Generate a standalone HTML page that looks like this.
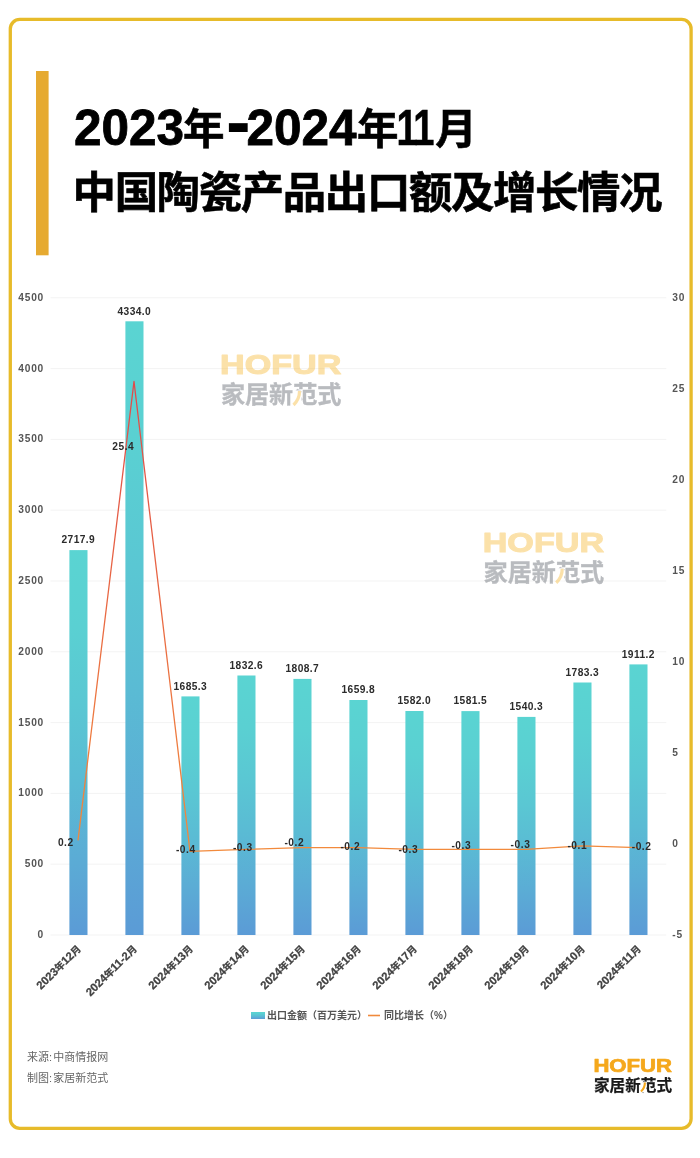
<!DOCTYPE html>
<html lang="zh-CN"><head><meta charset="utf-8"><title>2023年-2024年11月中国陶瓷产品出口额及增长情况</title>
<style>
html,body{margin:0;padding:0;background:#fff;}
body{width:700px;height:1158px;position:relative;overflow:hidden;font-family:"Liberation Sans","Noto Sans CJK SC",sans-serif;}
svg{position:absolute;left:0;top:0;display:block;}
text{font-family:"Liberation Sans","Noto Sans CJK SC",sans-serif;}
.ax{font-size:10.2px;font-weight:700;fill:#555;letter-spacing:0.75px;}
.bv{font-size:10.2px;font-weight:700;fill:#2b2b2b;letter-spacing:0.4px;}
.lv{font-size:10.2px;font-weight:700;fill:#2b2b2b;letter-spacing:0.55px;}
.xc{font-size:11.3px;font-weight:700;fill:#424242;stroke:#424242;stroke-width:0.25px;}
.xc .k{font-size:9.8px;}
.lg{font-size:10px;font-weight:700;fill:#555;}
.ft{font-size:11px;font-weight:400;fill:#666;}
.t1{font-size:42px;font-weight:900;fill:#000;}
.t1.n{font-size:49.5px;font-weight:700;stroke:#000;stroke-width:0.8px;}
.t1.c{font-size:41.5px;font-weight:700;stroke:#000;stroke-width:0.6px;}
.t1.n1{font-size:49.5px;font-weight:700;letter-spacing:-3px;stroke:#000;stroke-width:0.5px;}
.t1.h{font-size:74px;font-weight:700;}
.t2{font-size:43.4px;font-weight:700;fill:#000;stroke:#000;stroke-width:0.6px;stroke-linejoin:miter;letter-spacing:-1.35px;}
.logoE{font-weight:700;fill:#F5A81C;}
.logoC{font-weight:700;fill:#1a1a1a;}
</style></head><body>
<svg width="700" height="1158" viewBox="0 0 700 1158">
<defs>
<linearGradient id="bg" x1="0" y1="0" x2="0" y2="1"><stop offset="0" stop-color="#5AD4D2"/><stop offset="0.2" stop-color="#5AD0D2"/><stop offset="0.4" stop-color="#5AC7D3"/><stop offset="0.6" stop-color="#5ABBD4"/><stop offset="0.8" stop-color="#5BACD5"/><stop offset="1" stop-color="#5B9BD6"/></linearGradient>
<linearGradient id="lgd" gradientUnits="userSpaceOnUse" x1="0" y1="380" x2="0" y2="850"><stop offset="0" stop-color="#E04A4A"/><stop offset="1" stop-color="#F28A3C"/></linearGradient>
</defs>
<rect x="0" y="0" width="700" height="1158" fill="#fff"/>
<rect x="10.3" y="19.45" width="680.8" height="1108.85" rx="9.5" ry="9.5" fill="none" stroke="#E7BB2A" stroke-width="3.3"/>
<rect x="36" y="71" width="12.6" height="184.3" fill="#E6AA31"/>
<text class="t1 n" x="74" y="145">2023</text>
<text class="t1 c" x="183" y="144.4">年</text>
<text class="t1 h" x="226" y="147.4">-</text>
<text class="t1 n" x="246.5" y="145">2024</text>
<text class="t1 c" x="357" y="144.4">年</text>
<text class="t1 n1" transform="translate(396.4,145) scale(0.77,1)">11</text>
<text class="t1 c" x="435.3" y="144.4">月</text>
<text class="t2" x="72.6" y="207.6">中国陶瓷产品出口额及增长情况</text>
<line x1="50.5" y1="935.0" x2="666.3" y2="935.0" stroke="#f3f3f3" stroke-width="1"/>
<text class="ax" x="44" y="937.9" text-anchor="end">0</text>
<line x1="50.5" y1="864.2" x2="666.3" y2="864.2" stroke="#f3f3f3" stroke-width="1"/>
<text class="ax" x="44" y="867.1" text-anchor="end">500</text>
<line x1="50.5" y1="793.4" x2="666.3" y2="793.4" stroke="#f3f3f3" stroke-width="1"/>
<text class="ax" x="44" y="796.3" text-anchor="end">1000</text>
<line x1="50.5" y1="722.6" x2="666.3" y2="722.6" stroke="#f3f3f3" stroke-width="1"/>
<text class="ax" x="44" y="725.5" text-anchor="end">1500</text>
<line x1="50.5" y1="651.8" x2="666.3" y2="651.8" stroke="#f3f3f3" stroke-width="1"/>
<text class="ax" x="44" y="654.7" text-anchor="end">2000</text>
<line x1="50.5" y1="581.0" x2="666.3" y2="581.0" stroke="#f3f3f3" stroke-width="1"/>
<text class="ax" x="44" y="583.9" text-anchor="end">2500</text>
<line x1="50.5" y1="510.2" x2="666.3" y2="510.2" stroke="#f3f3f3" stroke-width="1"/>
<text class="ax" x="44" y="513.1" text-anchor="end">3000</text>
<line x1="50.5" y1="439.4" x2="666.3" y2="439.4" stroke="#f3f3f3" stroke-width="1"/>
<text class="ax" x="44" y="442.3" text-anchor="end">3500</text>
<line x1="50.5" y1="368.6" x2="666.3" y2="368.6" stroke="#f3f3f3" stroke-width="1"/>
<text class="ax" x="44" y="371.5" text-anchor="end">4000</text>
<line x1="50.5" y1="297.8" x2="666.3" y2="297.8" stroke="#f3f3f3" stroke-width="1"/>
<text class="ax" x="44" y="300.7" text-anchor="end">4500</text>
<text class="ax" x="672.3" y="937.9">-5</text>
<text class="ax" x="672.3" y="846.9">0</text>
<text class="ax" x="672.3" y="755.8">5</text>
<text class="ax" x="672.3" y="664.8">10</text>
<text class="ax" x="672.3" y="573.8">15</text>
<text class="ax" x="672.3" y="482.8">20</text>
<text class="ax" x="672.3" y="391.7">25</text>
<text class="ax" x="672.3" y="300.7">30</text>
<g transform="translate(220.9,353.2) scale(1.545)" opacity="0.42">
<text transform="translate(-0.6,13.6) scale(1.256,1)" font-size="17.6" font-weight="700" fill="#F7B935" stroke="#F7B935" stroke-width="0.7" stroke-linejoin="round">HOFUR</text>
<text x="0" y="32.5" font-size="15.6" font-weight="700" fill="#5a5f68" stroke="#5a5f68" stroke-width="0.25" textLength="78" lengthAdjust="spacingAndGlyphs">家居新范式</text>
<rect x="46.6" y="24.1" width="5.6" height="10.4" fill="#fff"/>
<path d="M50.9 24.5 C50.9 27.9 49.6 31.1 47 33.5" fill="none" stroke="#F7B935" stroke-width="2.1" stroke-linecap="butt"/>
</g>
<g transform="translate(483.6,531) scale(1.545)" opacity="0.42">
<text transform="translate(-0.6,13.6) scale(1.256,1)" font-size="17.6" font-weight="700" fill="#F7B935" stroke="#F7B935" stroke-width="0.7" stroke-linejoin="round">HOFUR</text>
<text x="0" y="32.5" font-size="15.6" font-weight="700" fill="#5a5f68" stroke="#5a5f68" stroke-width="0.25" textLength="78" lengthAdjust="spacingAndGlyphs">家居新范式</text>
<rect x="46.6" y="24.1" width="5.6" height="10.4" fill="#fff"/>
<path d="M50.9 24.5 C50.9 27.9 49.6 31.1 47 33.5" fill="none" stroke="#F7B935" stroke-width="2.1" stroke-linecap="butt"/>
</g>
<rect x="69.4" y="550.1" width="18.1" height="384.9" fill="url(#bg)"/>
<text class="bv" x="78.3" y="543.4" text-anchor="middle">2717.9</text>
<rect x="125.4" y="321.3" width="18.1" height="613.7" fill="url(#bg)"/>
<text class="bv" x="134.3" y="314.6" text-anchor="middle">4334.0</text>
<rect x="181.4" y="696.4" width="18.1" height="238.6" fill="url(#bg)"/>
<text class="bv" x="190.3" y="689.7" text-anchor="middle">1685.3</text>
<rect x="237.4" y="675.5" width="18.1" height="259.5" fill="url(#bg)"/>
<text class="bv" x="246.3" y="668.8" text-anchor="middle">1832.6</text>
<rect x="293.4" y="678.9" width="18.1" height="256.1" fill="url(#bg)"/>
<text class="bv" x="302.3" y="672.2" text-anchor="middle">1808.7</text>
<rect x="349.4" y="700.0" width="18.1" height="235.0" fill="url(#bg)"/>
<text class="bv" x="358.3" y="693.3" text-anchor="middle">1659.8</text>
<rect x="405.4" y="711.0" width="18.1" height="224.0" fill="url(#bg)"/>
<text class="bv" x="414.3" y="704.3" text-anchor="middle">1582.0</text>
<rect x="461.4" y="711.1" width="18.1" height="223.9" fill="url(#bg)"/>
<text class="bv" x="470.3" y="704.4" text-anchor="middle">1581.5</text>
<rect x="517.4" y="716.9" width="18.1" height="218.1" fill="url(#bg)"/>
<text class="bv" x="526.3" y="710.2" text-anchor="middle">1540.3</text>
<rect x="573.4" y="682.5" width="18.1" height="252.5" fill="url(#bg)"/>
<text class="bv" x="582.3" y="675.8" text-anchor="middle">1783.3</text>
<rect x="629.4" y="664.4" width="18.1" height="270.6" fill="url(#bg)"/>
<text class="bv" x="638.3" y="657.7" text-anchor="middle">1911.2</text>
<polyline points="78.0,840.3 134.0,381.5 190.0,851.3 246.0,849.4 302.0,847.6 358.0,847.6 414.0,849.4 470.0,849.4 526.0,849.4 582.0,845.8 638.0,847.6" fill="none" stroke="url(#lgd)" stroke-width="1.3" stroke-linejoin="round"/>
<text class="lv" x="65.8" y="846.0" text-anchor="middle">0.2</text>
<text class="lv" x="123.3" y="450.2" text-anchor="middle">25.4</text>
<text class="lv" x="185.8" y="853.0" text-anchor="middle">-0.4</text>
<text class="lv" x="242.8" y="850.6" text-anchor="middle">-0.3</text>
<text class="lv" x="294.3" y="846.3" text-anchor="middle">-0.2</text>
<text class="lv" x="350.3" y="849.7" text-anchor="middle">-0.2</text>
<text class="lv" x="408.3" y="852.6" text-anchor="middle">-0.3</text>
<text class="lv" x="461.3" y="849.1" text-anchor="middle">-0.3</text>
<text class="lv" x="520.5" y="848.1" text-anchor="middle">-0.3</text>
<text class="lv" x="577.3" y="849.0" text-anchor="middle">-0.1</text>
<text class="lv" x="641.6" y="850.3" text-anchor="middle">-0.2</text>
<text class="xc" transform="translate(81.6,949.5) rotate(-45)" text-anchor="end">2023<tspan class="k">年</tspan>12<tspan class="k">月</tspan></text>
<text class="xc" transform="translate(137.6,949.5) rotate(-45)" text-anchor="end">2024<tspan class="k">年</tspan>11-2<tspan class="k">月</tspan></text>
<text class="xc" transform="translate(193.6,949.5) rotate(-45)" text-anchor="end">2024<tspan class="k">年</tspan>13<tspan class="k">月</tspan></text>
<text class="xc" transform="translate(249.6,949.5) rotate(-45)" text-anchor="end">2024<tspan class="k">年</tspan>14<tspan class="k">月</tspan></text>
<text class="xc" transform="translate(305.6,949.5) rotate(-45)" text-anchor="end">2024<tspan class="k">年</tspan>15<tspan class="k">月</tspan></text>
<text class="xc" transform="translate(361.6,949.5) rotate(-45)" text-anchor="end">2024<tspan class="k">年</tspan>16<tspan class="k">月</tspan></text>
<text class="xc" transform="translate(417.6,949.5) rotate(-45)" text-anchor="end">2024<tspan class="k">年</tspan>17<tspan class="k">月</tspan></text>
<text class="xc" transform="translate(473.6,949.5) rotate(-45)" text-anchor="end">2024<tspan class="k">年</tspan>18<tspan class="k">月</tspan></text>
<text class="xc" transform="translate(529.6,949.5) rotate(-45)" text-anchor="end">2024<tspan class="k">年</tspan>19<tspan class="k">月</tspan></text>
<text class="xc" transform="translate(585.6,949.5) rotate(-45)" text-anchor="end">2024<tspan class="k">年</tspan>10<tspan class="k">月</tspan></text>
<text class="xc" transform="translate(641.6,949.5) rotate(-45)" text-anchor="end">2024<tspan class="k">年</tspan>11<tspan class="k">月</tspan></text>
<rect x="251" y="1012" width="14" height="7" fill="url(#bg)"/>
<text class="lg" x="267" y="1019">出口金额（百万美元）</text>
<line x1="368" y1="1015.5" x2="380" y2="1015.5" stroke="#F08A3C" stroke-width="1.6"/>
<text class="lg" x="384" y="1019">同比增长（%）</text>
<text class="ft" x="27" y="1060.7">来源:<tspan dx="1.2">中商情报网</tspan></text>
<text class="ft" x="27" y="1082.2">制图:<tspan dx="1.2">家居新范式</tspan></text>
<g transform="translate(594,1058) scale(1)" opacity="1">
<text transform="translate(-0.6,13.6) scale(1.256,1)" font-size="17.6" font-weight="700" fill="#F5A81C" stroke="#F5A81C" stroke-width="0.7" stroke-linejoin="round">HOFUR</text>
<text x="0" y="32.5" font-size="15.6" font-weight="700" fill="#1a1a1a" stroke="#1a1a1a" stroke-width="0.25" textLength="78" lengthAdjust="spacingAndGlyphs">家居新范式</text>
<rect x="46.6" y="24.1" width="5.6" height="10.4" fill="#fff"/>
<path d="M50.9 24.5 C50.9 27.9 49.6 31.1 47 33.5" fill="none" stroke="#F5A81C" stroke-width="2.1" stroke-linecap="butt"/>
</g>
</svg>
</body></html>
